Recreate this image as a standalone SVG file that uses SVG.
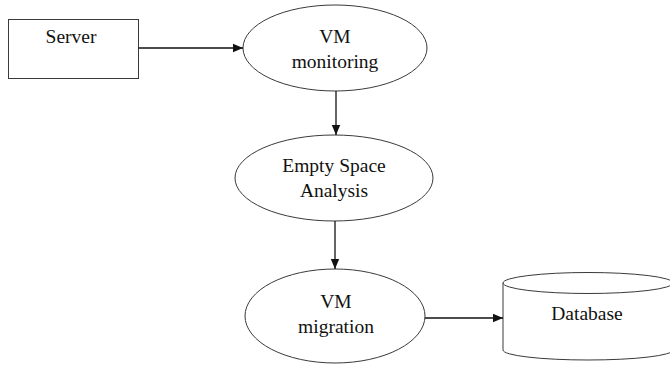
<svg xmlns="http://www.w3.org/2000/svg" width="670" height="365" viewBox="0 0 670 365">
  <style>
    .shape { fill: #ffffff; stroke: #3a3a3a; stroke-width: 1; }
    .label { font-family: "Liberation Serif", "Times New Roman", serif; font-size: 19.5px; fill: #111111; text-anchor: middle; }
    .edge { stroke: #111111; stroke-width: 1.3; fill: none; }
  </style>
  <defs>
    <marker id="arrow" viewBox="0 0 10 10" refX="10" refY="5" markerWidth="10" markerHeight="10" markerUnits="userSpaceOnUse" orient="auto">
      <path d="M0,0.8 L10,5 L0,9.2 Z" fill="#111111"/>
    </marker>
  </defs>
  <rect width="670" height="365" fill="#ffffff"/>

  <g id="server">
    <rect class="shape" x="8.5" y="19.5" width="130" height="59"/>
    <text class="label" x="71" y="43">Server</text>
  </g>

  <g id="vm-monitoring">
    <ellipse class="shape" cx="335" cy="48" rx="92" ry="43"/>
    <text class="label" x="335" y="43">VM</text>
    <text class="label" x="335" y="68">monitoring</text>
  </g>

  <g id="empty-space-analysis">
    <ellipse class="shape" cx="334" cy="178" rx="99" ry="43"/>
    <text class="label" x="334" y="172">Empty Space</text>
    <text class="label" x="334" y="197">Analysis</text>
  </g>

  <g id="vm-migration">
    <ellipse class="shape" cx="335" cy="316" rx="90" ry="47"/>
    <text class="label" x="336" y="308">VM</text>
    <text class="label" x="336" y="333">migration</text>
  </g>

  <g id="database">
    <path class="shape" d="M503,283 L503,350 A85,10 0 0 0 673,350 L673,283"/>
    <ellipse class="shape" cx="588" cy="283" rx="85" ry="10.5"/>
    <text class="label" x="587" y="320">Database</text>
  </g>

  <g id="connectors">
    <line class="edge" x1="138.5" y1="48" x2="243" y2="48" marker-end="url(#arrow)"/>
    <line class="edge" x1="336" y1="91" x2="336" y2="135" marker-end="url(#arrow)"/>
    <line class="edge" x1="335" y1="221" x2="335" y2="269" marker-end="url(#arrow)"/>
    <line class="edge" x1="425" y1="318" x2="503" y2="318" marker-end="url(#arrow)"/>
  </g>
</svg>
